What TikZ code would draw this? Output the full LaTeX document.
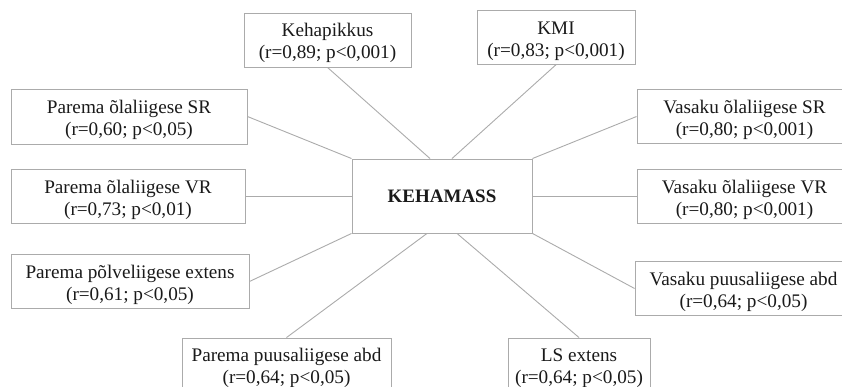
\documentclass[tikz,border=0pt]{standalone}
\usepackage{fontspec}
\setmainfont{Liberation Serif}
\definecolor{edge}{HTML}{ABABAB}
\definecolor{ink}{HTML}{1A1A1A}
\begin{document}
\begin{tikzpicture}[x=1pt,y=-1pt,
  box/.style={draw=edge, line width=0.9pt, fill=white, inner sep=0pt, align=center,
    text=ink, font=\fontsize{19.2}{22}\selectfont},
  link/.style={draw=edge, line width=0.9pt}]
\useasboundingbox (0,0) rectangle (842,387);
\clip (0,0) rectangle (842,387);
% helper macro for boxes from corners: name, x1, y1, x2, y2, line 1, line 2
\newcommand{\mybox}[7]{%
  \node[box, minimum width=#4pt-#2pt, minimum height=#5pt-#3pt]
    (#1) at ({(#2+#4)/2},{(#3+#5)/2})
    {\rule{0pt}{23.5pt}#6\\#7\rule[-8pt]{0pt}{8pt}};}
\mybox{keh}{244}{13}{411}{67}{Kehapikkus}{(r=0,89; p<0,001)}
\mybox{kmi}{477}{12}{635}{63}{KMI}{(r=0,83; p<0,001)}
\mybox{psr}{11}{89}{247}{144}{Parema õlaliigese SR}{(r=0,60; p<0,05)}
\mybox{vsr}{637}{90}{852}{143}{Vasaku õlaliigese SR}{(r=0,80; p<0,001)}
\mybox{pvr}{11}{170}{245}{223}{Parema õlaliigese VR}{(r=0,73; p<0,01)}
\mybox{vvr}{637}{170}{852}{223}{Vasaku õlaliigese VR}{(r=0,80; p<0,001)}
\mybox{ppol}{11}{255}{249}{308}{Parema põlveliigese extens}{(r=0,61; p<0,05)}
\mybox{vpuu}{635}{262}{852}{315}{Vasaku puusaliigese abd}{(r=0,64; p<0,05)}
\mybox{ppuu}{182}{338}{391}{392}{Parema puusaliigese abd}{(r=0,64; p<0,05)}
\mybox{ls}{508}{338}{650}{392}{LS extens}{(r=0,64; p<0,05)}
\node[box, minimum width=180pt, minimum height=74pt, font=\fontsize{19}{22}\selectfont\bfseries]
  (mass) at (442,196) {\raisebox{-1.5pt}{KEHAMASS}};
% connectors
\draw[link] (keh.south) -- ([xshift=-12pt]mass.north);
\draw[link] (kmi.south) -- ([xshift=10pt]mass.north);
\draw[link] (psr.east) -- (mass.north west);
\draw[link] (vsr.west) -- (mass.north east);
\draw[link] (pvr.east) -- (pvr.east -| mass.west);
\draw[link] (mass.east) -- (mass.east -| vvr.west);
\draw[link] (ppol.east) -- (mass.south west);
\draw[link] (vpuu.west) -- (mass.south east);
\draw[link] (ppuu.north) -- ([xshift=-15pt]mass.south);
\draw[link] (ls.north) -- ([xshift=15pt]mass.south);
\end{tikzpicture}
\end{document}
